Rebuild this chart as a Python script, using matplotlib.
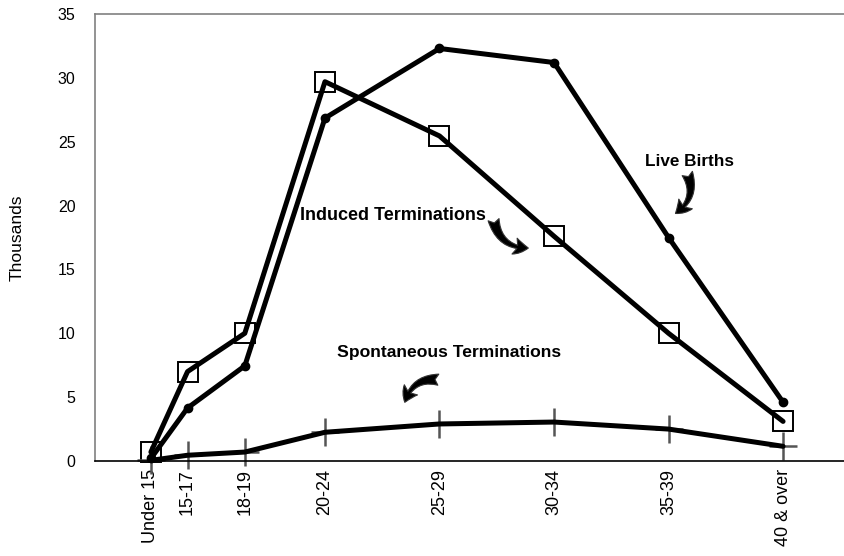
import matplotlib
matplotlib.use("Agg")
import matplotlib.pyplot as plt
from matplotlib.patches import FancyArrowPatch

plt.rcParams['font.family'] = ['Liberation Sans', 'DejaVu Sans']

age_groups = ["Under 15", "15-17", "18-19", "20-24", "25-29", "30-34", "35-39", "40 & over"]
age_mid = [14.4, 16, 18.5, 22, 27, 32, 37, 42]
live_births = [0.2, 4.15, 7.45, 26.85, 32.3, 31.2, 17.5, 4.6]
induced = [0.7, 7.0, 10.0, 29.7, 25.45, 17.6, 10.0, 3.1]
spontaneous = [0.05, 0.45, 0.7, 2.25, 2.9, 3.05, 2.5, 1.15]

fig = plt.figure(figsize=(8.44, 5.56), dpi=100)
ax = fig.add_axes([95/844, 95/556, 1 - 95/844, 447/556])

lw = 3.6
# Live births
ax.plot(age_mid, live_births, color='black', lw=lw, marker='o', ms=6,
        mfc='black', mec='black', zorder=3, clip_on=False, solid_capstyle='round')
# Induced terminations
ax.plot(age_mid, induced, color='black', lw=lw, zorder=3, clip_on=False, solid_capstyle='round')
ax.plot(age_mid, induced, ls='none', marker='s', ms=14, mfc='none', mec='black',
        mew=1.4, zorder=2, clip_on=False)
# Spontaneous terminations
ax.plot(age_mid, spontaneous, color='black', lw=lw, zorder=3, clip_on=False, solid_capstyle='round')
ax.plot(age_mid, spontaneous, ls='none', marker='+', ms=20, mec='#555555',
        mew=1.8, zorder=2, clip_on=False)

ax.set_xlim(11.96, 44.66)
ax.set_ylim(0, 35)
ax.set_yticks(range(0, 36, 5))
ax.set_xticks(age_mid)
ax.set_xticklabels(age_groups, rotation=90, fontsize=13)
ax.tick_params(axis='both', length=0)
ax.tick_params(axis='y', pad=14, labelsize=11.5)
ax.tick_params(axis='x', pad=6)
ax.set_ylabel("Thousands", fontsize=12.5, labelpad=24)

for s in ['top', 'left']:
    ax.spines[s].set_color('#808080')
    ax.spines[s].set_linewidth(1.2)
ax.spines['bottom'].set_color('black')
ax.spines['bottom'].set_linewidth(1.2)
ax.spines['right'].set_visible(False)

# text annotations (positions in pixel -> data)
def px2data(px, py):
    return (11.96 + (px - 95) / 22.9, (461 - py) / 12.77)

ax.text(*px2data(689, 162), "Live Births", fontsize=12.3, fontweight='bold',
        ha='center', va='center')
ax.text(*px2data(486, 216), "Induced Terminations", fontsize=13, fontweight='bold',
        ha='right', va='center')
ax.text(*px2data(449, 353), "Spontaneous Terminations", fontsize=12.6, fontweight='bold',
        ha='center', va='center')

def curved_arrow(p0, p1, rad):
    a = FancyArrowPatch(px2data(*p0), px2data(*p1), connectionstyle=f"arc3,rad={rad}",
                        arrowstyle="fancy,head_width=12,head_length=10,tail_width=8",
                        mutation_scale=1, fc='black', ec='#333333', lw=0.8, zorder=4)
    ax.add_patch(a)

curved_arrow((686, 171), (673, 215), -0.45)
curved_arrow((493, 217), (531, 248), 0.45)
curved_arrow((441, 380), (404, 405), 0.45)

fig.savefig("out.png", dpi=100)
